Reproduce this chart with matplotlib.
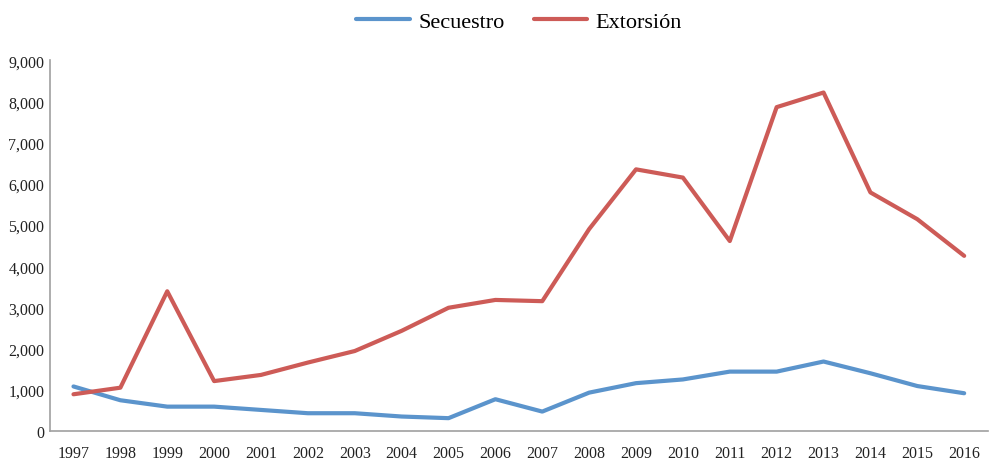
import matplotlib
matplotlib.use('Agg')
import matplotlib.pyplot as plt
from matplotlib.ticker import FuncFormatter

plt.rcParams['font.family'] = ['Liberation Serif', 'DejaVu Serif']

# Data
years = [str(y) for y in range(1997, 2017)]
secuestro = [1080, 745, 590, 590, 510, 430, 430, 350, 310, 770,
             470, 930, 1160, 1250, 1440, 1440, 1685, 1400, 1090, 915]
extorsion = [890, 1050, 3390, 1210, 1360, 1660, 1940, 2430, 2990, 3180,
             3150, 4900, 6350, 6150, 4610, 7860, 8215, 5790, 5140, 4250]

fig = plt.figure(figsize=(9.89, 4.6), dpi=100)
ax = fig.add_axes([0.0506, 0.061, 0.948, 0.806])

x = list(range(len(years)))
ax.plot(x, secuestro, color='#5b94cc', lw=3.0, label='Secuestro', solid_capstyle='round')
ax.plot(x, extorsion, color='#cd5b57', lw=3.0, label='Extorsión', solid_capstyle='round')

ax.set_xlim(-0.5, len(years) - 0.5)
ax.set_ylim(0, 9000)
ax.set_xticks(x)
ax.set_xticklabels(years)
ax.set_yticks(range(0, 9001, 1000))
ax.yaxis.set_major_formatter(FuncFormatter(lambda v, p: f'{int(v):,}'))
ax.tick_params(axis='both', length=0, labelsize=11.5, colors='#222222')
ax.tick_params(axis='x', pad=10)
ax.tick_params(axis='y', pad=4)

for s in ['top', 'right']:
    ax.spines[s].set_visible(False)
for s in ['left', 'bottom']:
    ax.spines[s].set_color('#a0a0a0')
    ax.spines[s].set_linewidth(1.2)

fig.legend(loc='upper center', bbox_to_anchor=(0.525, 1.016), ncol=2, frameon=False,
           fontsize=16, handlelength=2.4, columnspacing=1.3, handletextpad=0.4)

fig.savefig('out.png', dpi=100)
